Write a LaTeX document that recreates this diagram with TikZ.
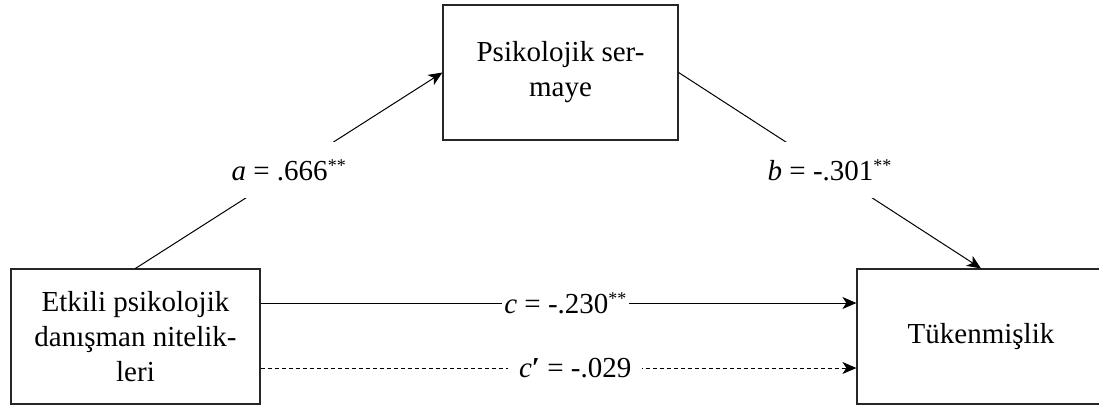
\documentclass[tikz,border=0pt]{standalone}
\usepackage{fontspec}
\setmainfont{Liberation Serif}
\usetikzlibrary{arrows.meta}
\tikzset{
  box/.style={draw=black!85, line width=1.2pt, fill=white, align=center, inner sep=0pt,
    font=\fontsize{29}{35}\selectfont},
  arr/.style={line width=1pt, -{Stealth[length=14pt,width=12pt,inset=4pt]}},
  lbl/.style={fill=white, inner xsep=2pt, inner ysep=0pt, minimum height=56pt,
    font=\fontsize{29}{35}\selectfont},
}
\newcommand{\stars}{\textsuperscript{\fontsize{18}{18}\selectfont **}}
\begin{document}
\begin{tikzpicture}[x=1pt,y=-1pt]
\useasboundingbox (0,0) rectangle (1099,408);
\node[box, minimum width=249pt, minimum height=135pt] (X) at (135.5,336.5)
  {Etkili psikolojik\\danışman nitelik-\\leri};
\node[box, minimum width=235pt, minimum height=135pt] (M) at (560.5,72.5)
  {Psikolojik ser-\\maye};
\node[box, minimum width=248pt, minimum height=135pt] (Y) at (981,336.5)
  {Tükenmişlik};
\draw[arr] (X.north) -- node[lbl] {\textit{a} = .666\stars} (M.west);
\draw[arr] (M.east) -- node[lbl] {\textit{b} = -.301\stars} (Y.north);
\draw[arr] ([yshift=33.5pt]X.east) -- node[lbl, pos=0.512] {\textit{c} = -.230\stars} ([yshift=33.5pt]Y.west);
\draw[arr, dash pattern=on 4pt off 3pt] ([yshift=-31.5pt]X.east) -- node[lbl, pos=0.528, inner xsep=11pt] {\textit{c}\textbf{′} = -.029} ([yshift=-31.5pt]Y.west);
\end{tikzpicture}
\end{document}
